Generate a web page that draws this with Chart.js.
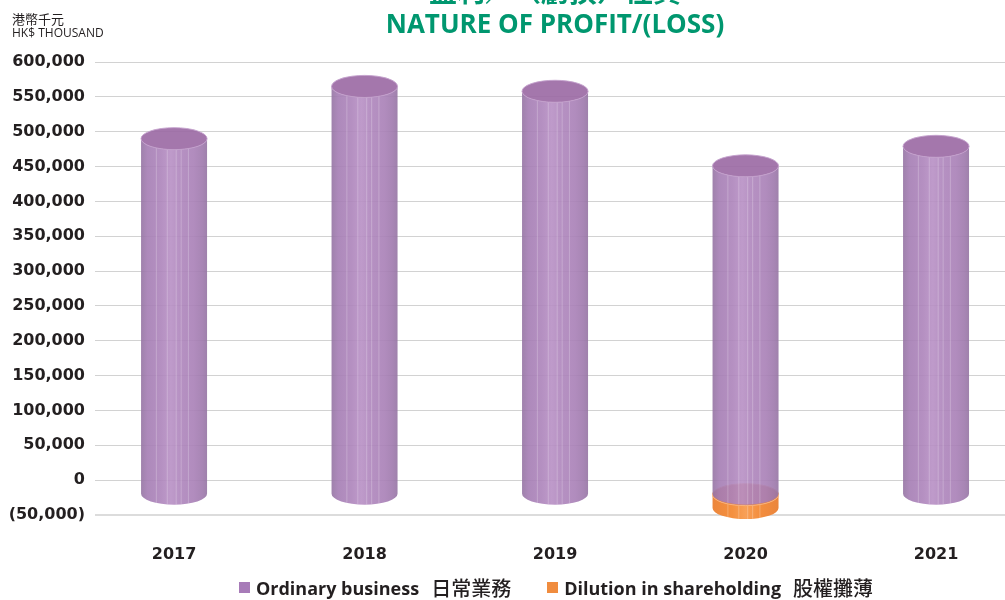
<!DOCTYPE html>
<html>
<head>
<meta charset="utf-8">
<script src="https://cdn.jsdelivr.net/npm/chart.js@4.4.1/dist/chart.umd.min.js"></script>
<style>
  body { margin: 0; background: #fff; }
  #wrap { position: relative; width: 1005px; height: 600px; overflow: hidden; }
  #chart { position: absolute; left: 0; top: 0; }
  .unit { position: absolute; left: 12px; color: #231f20; font-family: "Open Sans", sans-serif; }
  .title { position: absolute; left: 0; width: 1110px; text-align: center; color: #00976f; font-weight: 700; }
  #legend { position: absolute; left: 0; top: 573px; width: 1112px; display: flex; justify-content: center;
            gap: 36px; font-family: "Open Sans", sans-serif; font-weight: 700; font-size: 18px; color: #231f20; }
  #legend .item { white-space: pre; display: flex; align-items: center; }
  #legend i { display: inline-block; width: 11px; height: 11px; margin-right: 6px; }
  #legend .cjk { font-family: "Noto Sans CJK TC"; font-size: 20px; font-weight: 500; margin-left: 12px; }
</style>
</head>
<body>
<div id="wrap">
  <canvas id="chart" width="1005" height="600"></canvas>
  <div class="unit" style="top:9px;font-size:13px;font-family:'Noto Sans CJK TC';">港幣千元</div>
  <div class="unit" style="top:24px;font-size:12px;">HK$ THOUSAND</div>
  <div class="title" style="top:-24px;font-size:28px;line-height:1;font-family:'Noto Sans CJK TC';">盈利／（虧損）性質</div>
  <div class="title" style="top:5px;font-size:26px;font-family:'Open Sans';">NATURE OF PROFIT/(LOSS)</div>
  <div id="legend"></div>
</div>
<script>
const years = ["2017", "2018", "2019", "2020", "2021"];
const ordinaryBusiness = [490000, 565000, 558000, 451000, 479000];
const dilution = [0, 0, 0, -20000, 0];
const seriesNames = ["Ordinary business", "Dilution in shareholding"];
const seriesNamesZh = ["日常業務", "股權攤薄"];
const seriesColors = ["#a77bb8", "#f08c3e"];

const DEPTH = 14;   // how far the floor of the 3d box sits below zero
const ELLIPSE = 11;

function fmt(v) {
  const s = Math.abs(v).toLocaleString("en-US");
  return v < 0 ? `(${s})` : s;
}

const bodyStops = {
  purple: [[0, "#9574a3"], [0.1, "#a57db4"], [0.3, "#ad84bb"], [0.45, "#b890c5"], [0.6, "#ae85bc"],
           [0.8, "#a980b7"], [0.93, "#9f79ad"], [1, "#9574a3"]],
  orange: [[0, "#ec863c"], [0.3, "#f4903f"], [0.5, "#f8a057"], [0.7, "#f48f3f"], [1, "#ea853c"]],
};
const topColor = { purple: "#9a68a3", orange: "#dd7f4a" };
const rimColor = { purple: "#c3a0cc", orange: "#f8b27a" };

function drawCylinder(ctx, x, top, bot, r, kind, alpha) {
  ctx.save();
  ctx.globalAlpha = alpha;
  const g = ctx.createLinearGradient(x - r, 0, x + r, 0);
  bodyStops[kind].forEach(s => g.addColorStop(s[0], s[1]));
  ctx.beginPath();
  ctx.moveTo(x - r, top);
  ctx.lineTo(x - r, bot);
  ctx.ellipse(x, bot, r, ELLIPSE, 0, Math.PI, 0, true);
  ctx.lineTo(x + r, top);
  ctx.ellipse(x, top, r, ELLIPSE, 0, 0, Math.PI, false);
  ctx.closePath();
  ctx.fillStyle = g;
  ctx.fill();

  // thin light stripes on the body
  ctx.save();
  ctx.clip();
  ctx.strokeStyle = "rgba(255,255,255,0.25)";
  ctx.lineWidth = 1;
  [-0.55, -0.22, 0.05, 0.2, 0.42].forEach(f => {
    ctx.beginPath();
    ctx.moveTo(x + f * r + 0.5, top);
    ctx.lineTo(x + f * r + 0.5, bot + ELLIPSE);
    ctx.stroke();
  });
  ctx.restore();

  ctx.beginPath();
  ctx.ellipse(x, top, r, ELLIPSE, 0, 0, Math.PI * 2);
  ctx.fillStyle = topColor[kind];
  ctx.fill();
  ctx.strokeStyle = rimColor[kind];
  ctx.lineWidth = 1;
  ctx.stroke();
  ctx.restore();
}

const cylinders = {
  id: "cylinders",
  beforeDatasetsDraw(chart) {
    const ctx = chart.ctx;
    const zeroY = chart.scales.y.getPixelForValue(0);
    [1, 0].forEach(di => {
      const kind = di === 0 ? "purple" : "orange";
      chart.getDatasetMeta(di).data.forEach((bar, i) => {
        if (!chart.data.datasets[di].data[i].y) return;
        const p = bar.getProps(["x", "y", "base", "width"], true);
        let top = Math.min(p.y, p.base);
        let bot = Math.max(p.y, p.base) + DEPTH;
        if (top >= zeroY - 0.5) top += DEPTH;
        drawCylinder(ctx, p.x, top, bot, p.width / 2, kind, di === 0 ? 0.9 : 1);
      });
    });
    return false;
  },
};

new Chart(document.getElementById("chart"), {
  type: "bar",
  data: {
    datasets: [
      {
        label: seriesNames[0],
        data: ordinaryBusiness.map((v, i) => ({ x: i, y: v })),
        backgroundColor: seriesColors[0],
        barThickness: 66,
      },
      {
        label: seriesNames[1],
        data: dilution.map((v, i) => ({ x: i, y: v })),
        backgroundColor: seriesColors[1],
        barThickness: 66,
      },
    ],
  },
  options: {
    responsive: false,
    animation: false,
    layout: { padding: { top: 62, right: 0, bottom: 0, left: 0 } },
    plugins: { legend: { display: false }, tooltip: { enabled: false } },
    scales: {
      x: {
        type: "linear",
        stacked: true,
        offset: false,
        min: -0.415,
        max: 4.362,
        afterBuildTicks: s => { s.ticks = years.map((_, i) => ({ value: i })); },
        afterFit: s => { s.height = 85; },
        grid: { display: false },
        border: { display: false },
        ticks: {
          padding: 22,
          color: "#231f20",
          font: { family: "DejaVu Sans", weight: "bold", size: 16 },
          callback: v => years[v],
        },
      },
      y: {
        stacked: true,
        min: -50000,
        max: 600000,
        afterFit: s => { s.width = 95; },
        border: { display: false },
        grid: {
          drawTicks: false,
          color: c => (c.tick.value === -50000 ? "#dcdcdc" : "#d2d2d2"),
          lineWidth: c => (c.tick.value === -50000 ? 2 : 1),
        },
        ticks: {
          stepSize: 50000,
          padding: 10,
          color: "#231f20",
          font: { family: "DejaVu Sans", weight: "bold", size: 16 },
          callback: v => fmt(v),
        },
      },
    },
  },
  plugins: [cylinders],
});

const legend = document.getElementById("legend");
seriesNames.forEach((name, i) => {
  const item = document.createElement("span");
  item.className = "item";
  const box = document.createElement("i");
  box.style.backgroundColor = seriesColors[i];
  item.appendChild(box);
  item.appendChild(document.createTextNode(name));
  const zh = document.createElement("span");
  zh.className = "cjk";
  zh.textContent = seriesNamesZh[i];
  item.appendChild(zh);
  legend.appendChild(item);
});
</script>
</body>
</html>
